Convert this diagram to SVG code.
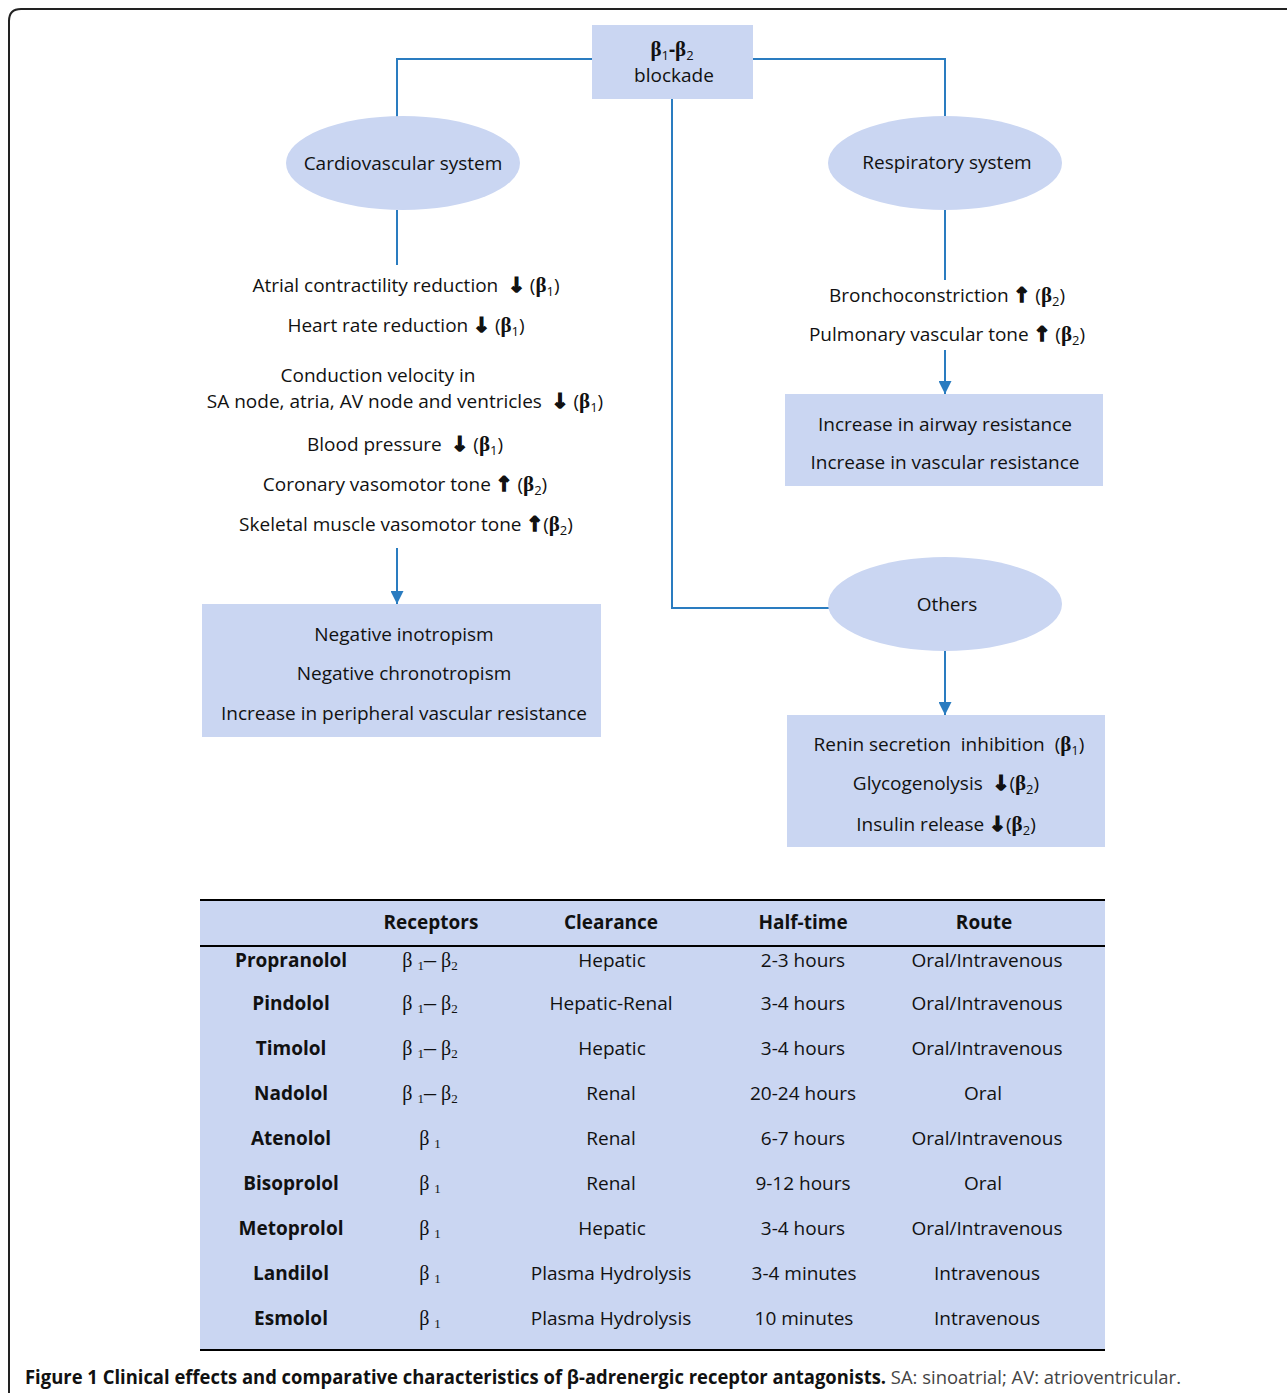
<svg xmlns="http://www.w3.org/2000/svg" width="1287" height="1393" viewBox="0 0 1287 1393">
<defs>
<style>
.t{font-family:"Open Sans","Noto Sans",sans-serif;font-size:19px;fill:#111;text-anchor:middle}
.b{font-weight:bold}
.ar{font-family:"DejaVu Sans",sans-serif;font-weight:bold;font-size:20px;stroke:#111;stroke-width:1.6}
.g{font-family:"Liberation Serif",serif;font-weight:bold;font-size:21px}
.s{font-size:13px}
.fill{fill:#cad6f2}
.ln{stroke:#2a7cc0;stroke-width:2;fill:none}
.tb{stroke:#000;stroke-width:2;fill:none}
.rg{font-family:"Liberation Serif",serif;font-size:20px}
.dash{font-size:24px}
</style>
<marker id="ah" markerWidth="13" markerHeight="13" refX="13" refY="6.5" orient="auto" markerUnits="userSpaceOnUse" viewBox="0 0 13 13">
<path d="M0,0 L13,6.5 L0,13 Z" fill="#2a7cc0"/>
</marker>
</defs>
<rect width="1287" height="1393" fill="#fff"/>
<path d="M9,1393 V21 Q9,9 21,9 H1287" fill="none" stroke="#222" stroke-width="2"/>

<g id="connectors">
<path class="ln" d="M592,59 H397 V117"/>
<path class="ln" d="M753,59 H945 V117"/>
<path class="ln" d="M672,99 V608 H829"/>
<path class="ln" d="M397,210 V265"/>
<path class="ln" d="M945,210 V280"/>
<path class="ln" d="M397,548 V604" marker-end="url(#ah)"/>
<path class="ln" d="M945,350 V394" marker-end="url(#ah)"/>
<path class="ln" d="M945,651 V715" marker-end="url(#ah)"/>
</g>

<g id="blockade">
<rect class="fill" x="592" y="25" width="161" height="74"/>
<text class="t" x="672" y="56"><tspan class="g">β</tspan><tspan class="s" dy="4">1</tspan><tspan dy="-4" class="b">-</tspan><tspan class="g">β</tspan><tspan class="s" dy="4">2</tspan></text>
<text class="t" x="674" y="82">blockade</text>
</g>

<g id="cardiovascular">
<ellipse class="fill" cx="403" cy="163" rx="117" ry="47"/>
<text class="t" x="403" y="170">Cardiovascular system</text>
</g>

<g id="respiratory">
<ellipse class="fill" cx="945" cy="163" rx="117" ry="47"/>
<text class="t" x="947" y="169">Respiratory system</text>
</g>

<g id="others">
<ellipse class="fill" cx="945" cy="604" rx="117" ry="47"/>
<text class="t" x="947" y="611">Others</text>
</g>

<g id="cardio-effects">
<text class="t" x="406" y="292">Atrial contractility reduction &#160;<tspan class="ar">↓</tspan> (<tspan class="g">β</tspan><tspan class="s" dy="4">1</tspan><tspan dy="-4">)</tspan></text>
<text class="t" x="406" y="332">Heart rate reduction <tspan class="ar">↓</tspan> (<tspan class="g">β</tspan><tspan class="s" dy="4">1</tspan><tspan dy="-4">)</tspan></text>
<text class="t" x="378" y="382">Conduction velocity in</text>
<text class="t" x="405" y="408">SA node, atria, AV node and ventricles &#160;<tspan class="ar">↓</tspan> (<tspan class="g">β</tspan><tspan class="s" dy="4">1</tspan><tspan dy="-4">)</tspan></text>
<text class="t" x="405" y="451">Blood pressure &#160;<tspan class="ar">↓</tspan> (<tspan class="g">β</tspan><tspan class="s" dy="4">1</tspan><tspan dy="-4">)</tspan></text>
<text class="t" x="405" y="491">Coronary vasomotor tone <tspan class="ar">↑</tspan> (<tspan class="g">β</tspan><tspan class="s" dy="4">2</tspan><tspan dy="-4">)</tspan></text>
<text class="t" x="406" y="531">Skeletal muscle vasomotor tone <tspan class="ar">↑</tspan>(<tspan class="g">β</tspan><tspan class="s" dy="4">2</tspan><tspan dy="-4">)</tspan></text>
</g>

<g id="cardio-result">
<rect class="fill" x="202" y="604" width="399" height="133"/>
<text class="t" x="404" y="641">Negative inotropism</text>
<text class="t" x="404" y="680">Negative chronotropism</text>
<text class="t" x="404" y="720">Increase in peripheral vascular resistance</text>
</g>

<g id="resp-effects">
<text class="t" x="947" y="302">Bronchoconstriction <tspan class="ar">↑</tspan> (<tspan class="g">β</tspan><tspan class="s" dy="4">2</tspan><tspan dy="-4">)</tspan></text>
<text class="t" x="947" y="341">Pulmonary vascular tone <tspan class="ar">↑</tspan> (<tspan class="g">β</tspan><tspan class="s" dy="4">2</tspan><tspan dy="-4">)</tspan></text>
</g>

<g id="resp-result">
<rect class="fill" x="785" y="394" width="318" height="92"/>
<text class="t" x="945" y="431">Increase in airway resistance</text>
<text class="t" x="945" y="469">Increase in vascular resistance</text>
</g>

<g id="others-result">
<rect class="fill" x="787" y="715" width="318" height="132"/>
<text class="t" x="949" y="751">Renin secretion &#160;inhibition &#160;(<tspan class="g">β</tspan><tspan class="s" dy="4">1</tspan><tspan dy="-4">)</tspan></text>
<text class="t" x="946" y="790">Glycogenolysis &#160;<tspan class="ar">↓</tspan>(<tspan class="g">β</tspan><tspan class="s" dy="4">2</tspan><tspan dy="-4">)</tspan></text>
<text class="t" x="946" y="831">Insulin release <tspan class="ar">↓</tspan>(<tspan class="g">β</tspan><tspan class="s" dy="4">2</tspan><tspan dy="-4">)</tspan></text>
</g>

<g id="table">
<rect class="fill" x="200" y="900" width="905" height="450"/>
<path class="tb" d="M200,900 H1105 M200,946 H1105 M200,1350 H1105"/>
<g class="t b">
<text x="431" y="929">Receptors</text>
<text x="611" y="929">Clearance</text>
<text x="803" y="929">Half-time</text>
<text x="984" y="929">Route</text>
</g>
<g class="t b">
<text x="291" y="967">Propranolol</text>
<text x="291" y="1010">Pindolol</text>
<text x="291" y="1055">Timolol</text>
<text x="291" y="1100">Nadolol</text>
<text x="291" y="1145">Atenolol</text>
<text x="291" y="1190">Bisoprolol</text>
<text x="291" y="1235">Metoprolol</text>
<text x="291" y="1280">Landilol</text>
<text x="291" y="1325">Esmolol</text>
</g>
<g class="t rg">
<text x="430" y="967">β <tspan class="s" dy="3">1</tspan><tspan class="dash" dy="-3">–</tspan> β<tspan class="s" dy="3">2</tspan></text>
<text x="430" y="1010">β <tspan class="s" dy="3">1</tspan><tspan class="dash" dy="-3">–</tspan> β<tspan class="s" dy="3">2</tspan></text>
<text x="430" y="1055">β <tspan class="s" dy="3">1</tspan><tspan class="dash" dy="-3">–</tspan> β<tspan class="s" dy="3">2</tspan></text>
<text x="430" y="1100">β <tspan class="s" dy="3">1</tspan><tspan class="dash" dy="-3">–</tspan> β<tspan class="s" dy="3">2</tspan></text>
<text x="430" y="1145">β <tspan class="s" dy="3">1</tspan></text>
<text x="430" y="1190">β <tspan class="s" dy="3">1</tspan></text>
<text x="430" y="1235">β <tspan class="s" dy="3">1</tspan></text>
<text x="430" y="1280">β <tspan class="s" dy="3">1</tspan></text>
<text x="430" y="1325">β <tspan class="s" dy="3">1</tspan></text>
</g>
<g class="t">
<text x="612" y="967">Hepatic</text>
<text x="611" y="1010">Hepatic-Renal</text>
<text x="612" y="1055">Hepatic</text>
<text x="611" y="1100">Renal</text>
<text x="611" y="1145">Renal</text>
<text x="611" y="1190">Renal</text>
<text x="612" y="1235">Hepatic</text>
<text x="611" y="1280">Plasma Hydrolysis</text>
<text x="611" y="1325">Plasma Hydrolysis</text>
<text x="803" y="967">2-3 hours</text>
<text x="803" y="1010">3-4 hours</text>
<text x="803" y="1055">3-4 hours</text>
<text x="803" y="1100">20-24 hours</text>
<text x="803" y="1145">6-7 hours</text>
<text x="803" y="1190">9-12 hours</text>
<text x="803" y="1235">3-4 hours</text>
<text x="804" y="1280">3-4 minutes</text>
<text x="804" y="1325">10 minutes</text>
<text x="987" y="967">Oral/Intravenous</text>
<text x="987" y="1010">Oral/Intravenous</text>
<text x="987" y="1055">Oral/Intravenous</text>
<text x="983" y="1100">Oral</text>
<text x="987" y="1145">Oral/Intravenous</text>
<text x="983" y="1190">Oral</text>
<text x="987" y="1235">Oral/Intravenous</text>
<text x="987" y="1280">Intravenous</text>
<text x="987" y="1325">Intravenous</text>
</g>
</g>

<text x="25" y="1384" style="font-family:'Open Sans','Noto Sans',sans-serif;font-size:19px;fill:#111" textLength="1156" lengthAdjust="spacingAndGlyphs"><tspan font-weight="bold">Figure 1 Clinical effects and comparative characteristics of β-adrenergic receptor antagonists.</tspan> <tspan fill="#444">SA: sinoatrial; AV: atrioventricular.</tspan></text>
</svg>
